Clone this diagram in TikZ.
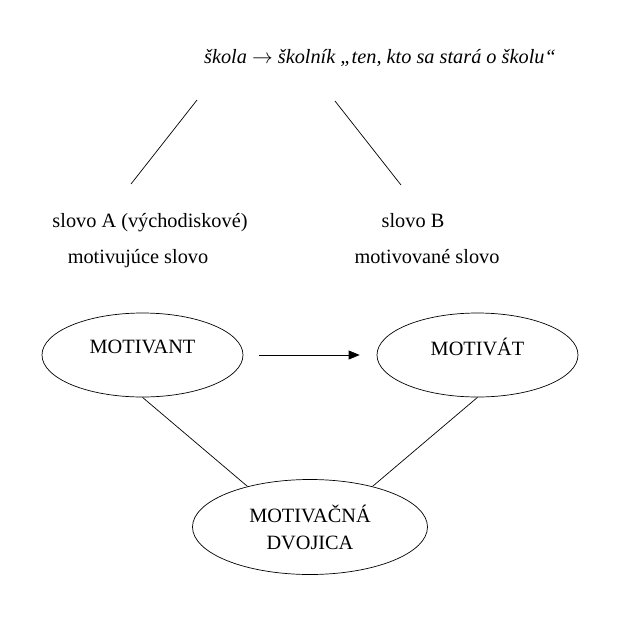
\documentclass[tikz,border=0pt]{standalone}
\usepackage{fontspec}
\setmainfont{Liberation Serif}
\usetikzlibrary{shapes.geometric,arrows.meta}
\tikzset{
  word/.style={anchor=base,font=\fontsize{20.3}{27}\selectfont},
  oval/.style={draw,ellipse,inner sep=0pt,minimum width=201pt,minimum height=84pt,
    font=\fontsize{20.3}{27}\selectfont},
  raised/.style={text depth=17pt},
}
\begin{document}
\begin{tikzpicture}[x=1pt,y=-1pt,line width=0.7pt]
      \useasboundingbox (0,0) rectangle (625,625);
      \draw
        (380,63) node[word] (skola){\itshape škola $\rightarrow$ školník „ten, kto sa stará o školu“}
        (150,227) node[word] (slovoA){slovo A (východiskové)}
        (138,263) node[word] (motA){motivujúce slovo}
        (413,227) node[word] (slovoB){slovo B}
        (427,263) node[word] (motB){motivované slovo}
        (142.5,355) node[oval,raised] (motivant){MOTIVANT}
        (477.5,355) node[oval,raised] (motivat){MOTIVÁT}
        (310,527) node[oval,minimum width=235pt,minimum height=95pt,align=center] (dvojica){MOTIVAČNÁ\\DVOJICA};
      \coordinate (a1) at (197,100);
      \coordinate (a2) at (131,184);
      \coordinate (b1) at (335,101);
      \coordinate (b2) at (401,185);
      \begin{scope}[-]
        \draw (a1) to (a2);
        \draw (b1) to (b2);
        \draw (motivant.south) to (dvojica.147.8);
        \draw (motivat.south) to (dvojica.33.7);
      \end{scope}
      \draw[-{Triangle[length=11pt,width=9pt]},shorten <=16pt,shorten >=17pt] (motivant.east) -- (motivat.west);
    \end{tikzpicture}
\end{document}
